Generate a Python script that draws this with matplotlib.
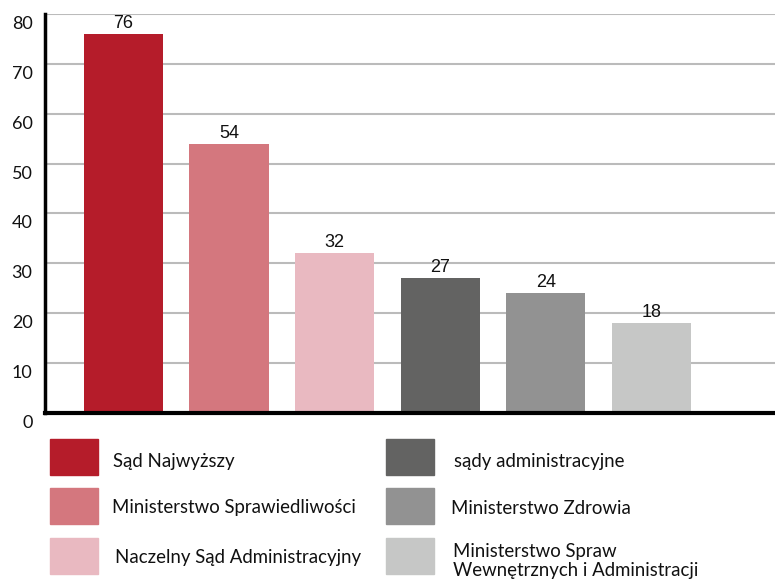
import matplotlib.pyplot as plt
import matplotlib.transforms as mtransforms
from matplotlib.patches import Rectangle

plt.rcParams["font.family"] = ["Lato", "DejaVu Sans"]

categories = [
    "Sąd Najwyższy",
    "Ministerstwo Sprawiedliwości",
    "Naczelny Sąd Administracyjny",
    "sądy administracyjne",
    "Ministerstwo Zdrowia",
    "Ministerstwo Spraw\nWewnętrznych i Administracji",
]
values = [76, 54, 32, 27, 24, 18]
colors = ["#B51C2A", "#D4777E", "#E9B9C1", "#636362", "#929292", "#C6C7C6"]
y_ticks = [0, 10, 20, 30, 40, 50, 60, 70, 80]

W, H = 775, 580
fig = plt.figure(figsize=(W / 100, H / 100), dpi=100)
ax = fig.add_axes([45 / W, 1 - 413 / H, 1 - 45 / W, (413 - 14) / H])

x = list(range(len(values)))
bars = ax.bar(x, values, width=0.75, color=colors, zorder=2)

for xi, v in zip(x, values):
    ax.annotate(str(v), (xi, v), xytext=(0, 1.5), textcoords="offset points",
                ha="center", va="bottom", fontsize=13, color="#111111",
                family=["Liberation Sans", "DejaVu Sans"], zorder=4)

ax.set_xlim(-0.743, 6.17)
ax.set_ylim(0, 80)
ax.set_yticks(y_ticks)
ax.set_xticks([])
ax.yaxis.grid(True, color="#BBBBBB", linewidth=1.5, zorder=0)
ax.tick_params(axis="y", length=0, pad=9, labelsize=13, labelcolor="#111111")
offset = mtransforms.ScaledTranslation(0, -8.5 / 100, fig.dpi_scale_trans)
for lab in ax.get_yticklabels():
    lab.set_transform(lab.get_transform() + offset)

for s in ["top", "right"]:
    ax.spines[s].set_visible(False)
ax.spines["left"].set_linewidth(2.5)
ax.spines["bottom"].set_linewidth(3)
ax.spines["left"].set_zorder(3)
ax.spines["bottom"].set_zorder(3)

# legend, drawn by hand in two columns
sq_x = [50, 50, 50, 386, 386, 386]
sq_y = [439, 488, 538, 439, 488, 538]
txt_x = [113, 112, 115, 454, 451, 453]
txt_y = [462, 508, 558, 462, 508, 561]
for i, (lab, c) in enumerate(zip(categories, colors)):
    fig.patches.append(Rectangle((sq_x[i] / W, 1 - (sq_y[i] + 36) / H), 48 / W, 36 / H,
                                 transform=fig.transFigure, color=c))
    fig.text(txt_x[i] / W, 1 - txt_y[i] / H, lab, ha="left", va="center",
             fontsize=13.4, color="#111111", linespacing=1.1)

fig.savefig("out.png", dpi=100)
